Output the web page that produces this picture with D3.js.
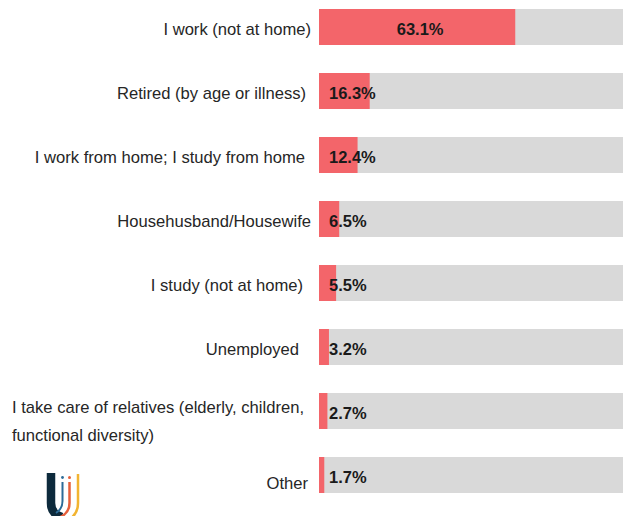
<!DOCTYPE html>
<html>
<head>
<meta charset="utf-8">
<script src="https://cdn.jsdelivr.net/npm/d3@7"></script>
<style>
  html, body { margin: 0; padding: 0; background: #fff; }
  svg { display: block; font-family: "Liberation Sans", Arial, sans-serif; }
</style>
</head>
<body>
<svg id="chart" width="623" height="516"></svg>
<script>
// Main activity of respondents, share in %
const categories = [
  "I work (not at home)",
  "Retired (by age or illness)",
  "I work from home; I study from home",
  "Househusband/Housewife",
  "I study (not at home)",
  "Unemployed",
  "I take care of relatives (elderly, children, functional diversity)",
  "Other"
];
const shares = [63.1, 16.3, 12.4, 6.5, 5.5, 3.2, 2.7, 1.7];
const scaleMax = 100;

const svg = d3.select("#chart");

const x = d3.scaleLinear().domain([0, scaleMax]).range([319, 630]);
const y = d3.scaleBand().domain(categories).range([9, 493])
  .paddingInner(0.4375).paddingOuter(0);

const rows = categories.map((c, i) => ({ cat: c, val: shares[i] }));

// full-scale track behind each bar
svg.append("g").selectAll("rect").data(rows).join("rect")
  .attr("x", x(0)).attr("y", d => y(d.cat))
  .attr("width", x(scaleMax) - x(0)).attr("height", y.bandwidth())
  .attr("fill", "#d9d9d9");

// value bars
svg.append("g").selectAll("rect").data(rows).join("rect")
  .attr("x", x(0)).attr("y", d => y(d.cat))
  .attr("width", d => x(d.val) - x(0)).attr("height", y.bandwidth())
  .attr("fill", "#f3656a");

// value labels: centred when they fit, otherwise just after the bar start
const fmt = v => v.toFixed(1) + "%";
const vl = svg.append("g").selectAll("text").data(rows).join("text")
  .attr("y", d => y(d.cat) + y.bandwidth() / 2 + 2)
  .attr("dy", "0.36em")
  .attr("font-size", 16.5).attr("font-weight", "bold").attr("fill", "#1a1a1a")
  .text(d => fmt(d.val));
vl.each(function(d) {
  const w = this.getComputedTextLength();
  const bw = x(d.val) - x(0);
  const t = d3.select(this);
  if (bw > w + 20) t.attr("x", x(0) + bw / 2 + 3).attr("text-anchor", "middle");
  else t.attr("x", x(0) + 10).attr("text-anchor", "start");
});

// category labels, right-aligned; long ones wrap into a left-aligned block
const labelRight = 311, wrapWidth = 300, lineH = 28;
const labelInset = {
  "Retired (by age or illness)": 5,
  "I work from home; I study from home": 6,
  "I study (not at home)": 8,
  "Unemployed": 12,
  "Other": 3
};
const labelNudge = { "Other": 6 };
const lg = svg.append("g").attr("font-size", 16.6).attr("fill", "#262626");
rows.forEach(d => {
  const mid = y(d.cat) + y.bandwidth() / 2;
  const t = lg.append("text").attr("dy", "0.36em");
  t.text(d.cat);
  if (t.node().getComputedTextLength() <= wrapWidth) {
    t.attr("y", mid + 2.5 + (labelNudge[d.cat] || 0))
      .attr("x", labelRight - (labelInset[d.cat] || 0)).attr("text-anchor", "end");
    return;
  }
  // greedy word wrap
  const words = d.cat.split(" ");
  const lines = [];
  let cur = [];
  words.forEach(wd => {
    t.text(cur.concat(wd).join(" ") + " ");
    if (t.node().getComputedTextLength() > wrapWidth && cur.length) {
      lines.push(cur.join(" ")); cur = [wd];
    } else cur.push(wd);
  });
  lines.push(cur.join(" "));
  let maxW = 0;
  lines.forEach(l => { t.text(l + " "); maxW = Math.max(maxW, t.node().getComputedTextLength()); });
  t.text(null);
  const left = labelRight - 7 - maxW;
  const top = mid - 4;
  lines.forEach((l, i) => {
    t.append("tspan").attr("x", left).attr("y", top + i * lineH).attr("dy", "0.36em").text(l);
  });
});

// brand mark, bottom left
const logo = svg.append("g").attr("fill", "none").attr("stroke-linecap", "butt");
logo.append("path").attr("d", "M51 473 V503 Q51 514 62 517")
  .attr("stroke", "#0d2a3c").attr("stroke-width", 8.5);
logo.append("path").attr("d", "M62.5 482 V501 Q62.5 509 56 513")
  .attr("stroke", "#2c6b98").attr("stroke-width", 2);
logo.append("circle").attr("cx", 62.5).attr("cy", 477.5).attr("r", 1.4).attr("fill", "#2c6b98");
logo.append("path").attr("d", "M69.5 482 V503 Q69.5 514 58 518")
  .attr("stroke", "#e65f3b").attr("stroke-width", 2.5);
logo.append("circle").attr("cx", 69.5).attr("cy", 477.5).attr("r", 1.5).attr("fill", "#e65f3b");
logo.append("path").attr("d", "M78 474 V503 Q78 516 66 521")
  .attr("stroke", "#f2b431").attr("stroke-width", 2.5);
</script>
</body>
</html>
